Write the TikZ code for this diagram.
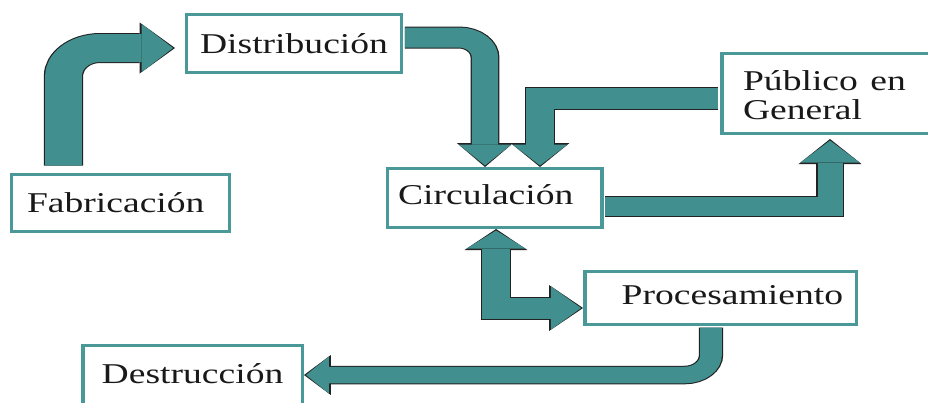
\documentclass[tikz,border=0pt]{standalone}
\usepackage{fontspec}
\setmainfont{Liberation Serif}
\usetikzlibrary{arrows.meta,calc}

\definecolor{boxteal}{RGB}{74,152,152}
\definecolor{flowteal}{RGB}{66,143,143}
\definecolor{flowedge}{RGB}{34,34,34}

\begin{document}
\begin{tikzpicture}[x=1pt, y=-1pt,
    stage/.style={draw=boxteal, line width=3pt, fill=white, inner sep=3pt,
      font=\fontsize{28.7pt}{29pt}\selectfont, text=black!90,
      text height=19pt, text depth=0pt},
    flow/.style n args={3}{draw=flowteal, line width=#1,
      -{Triangle[width=#2, length=#3, line width=0pt]},
      /utils/exec={\pgfmathsetlengthmacro\rimw{#2+3pt}%
        \pgfmathsetlengthmacro\riml{#3+3pt}},
      preaction={draw=flowedge, line width=#1+2pt, shorten >=-1.5pt,
        -{Triangle[width=\rimw, length=\riml, line width=0pt]}}},
    twoway/.style n args={5}{draw=flowteal, line width=#1,
      {Triangle[width=#2, length=#3, line width=0pt]}-{Triangle[width=#4, length=#5, line width=0pt]},
      /utils/exec={\pgfmathsetlengthmacro\rimw{#2+3pt}%
        \pgfmathsetlengthmacro\riml{#3+3pt}%
        \pgfmathsetlengthmacro\rimW{#4+3pt}%
        \pgfmathsetlengthmacro\rimL{#5+3pt}},
      preaction={draw=flowedge, line width=#1+2pt,
        shorten >=-1.5pt, shorten <=-1.5pt,
        {Triangle[width=\rimw, length=\riml, line width=0pt]}-{Triangle[width=\rimW, length=\rimL, line width=0pt]}}}
  ]
  \useasboundingbox (0,0) rectangle (928,402);
  % everything is drawn 1.31 times wider than high
  \begin{scope}[x=0.7634pt, transform canvas={xscale=1.31}]
    \node[stage, minimum width=164.1pt, minimum height=58pt] (dist) at (294,43.5) {Distribución};
    \node[stage, minimum width=166.4pt, minimum height=57pt,
      text width=142.7pt, align=left] (fab) at (120.5,203) {Fabricación};
    \node[stage, minimum width=163.4pt, minimum height=59pt,
      text width=147.3pt, align=left, text depth=7pt] (circ) at (494.5,198) {Circulación};
    \node[stage, minimum width=182pt, minimum height=80pt,
      text width=149.2pt, align=left, text height=17pt, text depth=24pt] (pub) at (840.75,93.5) {Público en\\General};
    \node[stage, minimum width=207.6pt, minimum height=53pt,
      text width=187pt, align=right, text depth=7pt] (proc) at (720.5,298) {Procesamiento};
    \node[stage, minimum width=167.9pt, minimum height=62pt,
      text depth=6pt] (dest) at (192.5,376.5) {Destrucción};

    \draw[flow={28pt}{48pt}{24pt}, rounded corners=28pt]
      ($(fab.north)+(-57,-7.5)$) |- ($(dist.west)+(-11.5,4.5)$);
    \draw[flow={20pt}{40pt}{21pt}, rounded corners=20pt]
      ($(dist.east)+(1.5,-6)$) -| ($(circ.north)+(-9.5,-1.5)$);
    \draw[flow={21pt}{42pt}{21pt}]
      ($(pub.west)+(-1.5,4.5)$) -| ($(circ.north)+(45.5,-1.5)$);
    \draw[flow={19pt}{45pt}{22pt}]
      ($(circ.east)+(1.5,8)$) -| ($(pub.south)+(-10.75,5.5)$);
    \draw[twoway={21pt}{45pt}{18pt}{43pt}{23pt}]
      ($(circ.south)+(1.5,1.5)$) |- ($(proc.west)+(-1.5,10)$);
    \draw[flow={16.5pt}{37pt}{17.5pt}, rounded corners=20pt]
      ($(proc.south)+(-9.5,1.5)$) |- ($(dest.east)+(1.5,-1.5)$);
  \end{scope}
\end{tikzpicture}
\end{document}
